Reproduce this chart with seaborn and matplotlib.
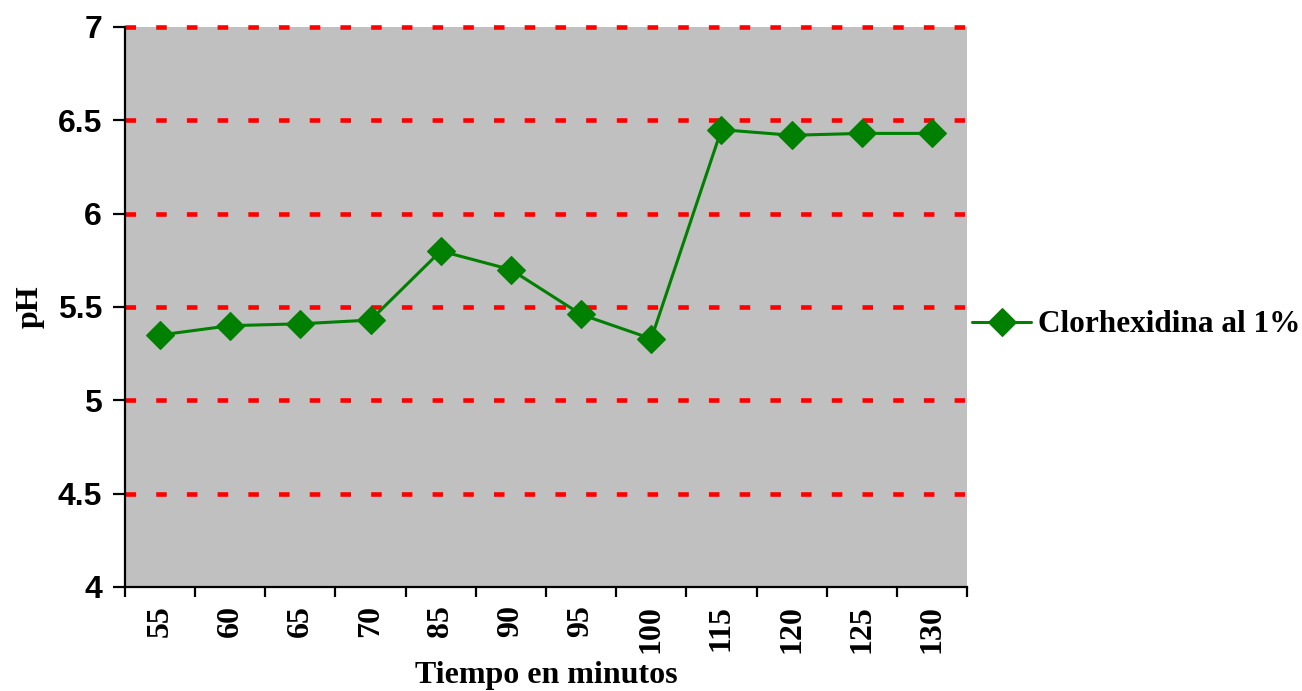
import matplotlib
matplotlib.use("Agg")
import matplotlib.pyplot as plt
from matplotlib.ticker import FixedLocator, NullFormatter
import pandas as pd
import seaborn as sns

# pH readings over time
minutes = ["55", "60", "65", "70", "85", "90", "95", "100", "115", "120", "125", "130"]
ph_values = [5.35, 5.40, 5.41, 5.43, 5.80, 5.70, 5.46, 5.33, 6.45, 6.42, 6.43, 6.43]
series_name = "Clorhexidina al 1%"
y_ticks = [4, 4.5, 5, 5.5, 6, 6.5, 7]
y_tick_labels = ["4", "4.5", "5", "5.5", "6", "6.5", "7"]

df = pd.DataFrame({"Tiempo": minutes, "pH": ph_values, "Serie": series_name})

sns.set_style("white")
plt.rcParams["font.family"] = ["Liberation Serif", "DejaVu Serif"]
plt.rcParams["text.color"] = "black"
plt.rcParams["xtick.color"] = "black"
plt.rcParams["ytick.color"] = "black"
plt.rcParams["axes.labelcolor"] = "black"

W, H, DPI = 1302, 691, 100
fig = plt.figure(figsize=(W / DPI, H / DPI), dpi=DPI)
ax = fig.add_axes([125 / W, 1 - 587 / H, (967 - 125) / W, (587 - 27) / H])
ax.set_facecolor("#C0C0C0")

# Red dotted reference lines
for yv in y_ticks[1:]:
    ax.axhline(yv, color="#FF0000", lw=3.3, dashes=(2.3, 4.4),
               dash_capstyle="butt", zorder=1, clip_on=False)

sns.lineplot(data=df, x="Tiempo", y="pH", hue="Serie", palette=["#008000"],
             marker="D", markersize=14, markeredgewidth=0.8,
             markeredgecolor="#008000", linewidth=2.2, sort=False,
             ax=ax, zorder=3)

n = len(minutes)
ax.set_xlim(-0.5, n - 0.5)
ax.set_ylim(4, 7)

for side in ("top", "right"):
    ax.spines[side].set_visible(False)
for side in ("left", "bottom"):
    ax.spines[side].set_linewidth(1.6)
    ax.spines[side].set_color("black")
    ax.spines[side].set_zorder(4)

ax.set_yticks(y_ticks)
ax.set_yticklabels(y_tick_labels, fontfamily="Liberation Sans",
                   fontweight="bold", fontsize=23, color="black")
ax.tick_params(axis="y", direction="out", length=8.5, width=1.6, pad=8,
               left=True, color="black")

ax.set_xticks(range(n))
ax.set_xticklabels(minutes, rotation=90, fontweight="bold", fontsize=23,
                   fontfamily="Liberation Serif", color="black")
ax.tick_params(axis="x", which="major", length=0, pad=13)
ax.xaxis.set_minor_locator(FixedLocator([i - 0.5 for i in range(n + 1)]))
ax.xaxis.set_minor_formatter(NullFormatter())
ax.tick_params(axis="x", which="minor", direction="out", length=7.5,
               width=1.6, bottom=True, color="black")

ax.set_xlabel("")
ax.set_ylabel("")
fig.text(546 / W, 1 - 676 / H, "Tiempo en minutos", ha="center", va="center",
         fontsize=23, fontweight="bold", fontfamily="Liberation Serif",
         color="black")
fig.text(30 / W, 1 - 307 / H, "pH", ha="center", va="center", rotation=90,
         fontsize=23, fontweight="bold", fontfamily="Liberation Serif",
         color="black")

leg = ax.legend(loc="center left", bbox_to_anchor=(972 / W, 1 - 325 / H),
                bbox_transform=fig.transFigure, frameon=False,
                handlelength=1.9, handletextpad=0.2, borderpad=0,
                borderaxespad=0,
                prop={"family": "Liberation Serif", "weight": "bold",
                      "size": 22.5})
for t in leg.get_texts():
    t.set_color("black")

fig.savefig("out.png", dpi=DPI, facecolor="white")
